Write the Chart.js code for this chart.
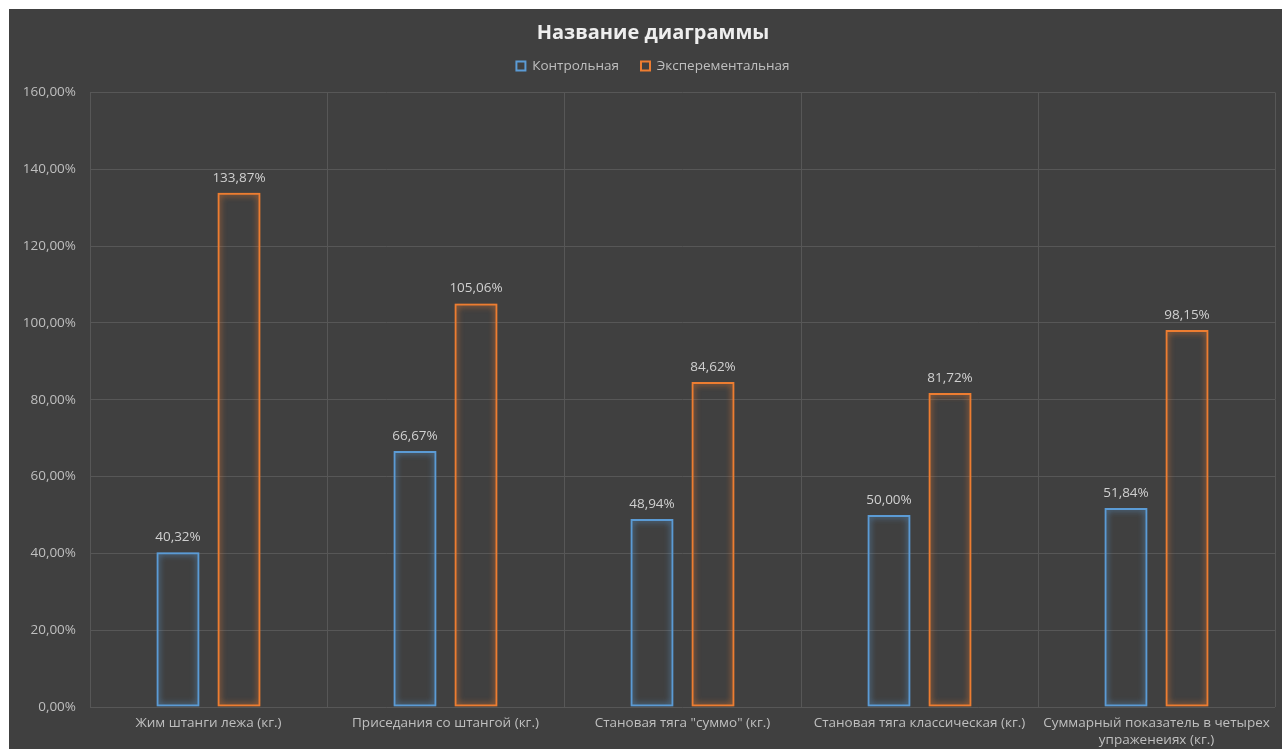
<!DOCTYPE html>
<html>
<head>
<meta charset="utf-8">
<script src="https://cdn.jsdelivr.net/npm/chart.js@4.4.0/dist/chart.umd.min.js"></script>
<style>
  html, body { margin: 0; padding: 0; background: #ffffff; overflow: hidden; }
  #wrap { position: absolute; left: 9px; top: 9px; width: 1273px; height: 740px; background: #404040; }
  canvas { display: block; }
</style>
</head>
<body>
<div id="wrap"><canvas id="c" width="1273" height="740"></canvas></div>
<script>
const categories = [
  "Жим штанги лежа (кг.)",
  "Приседания со штангой (кг.)",
  "Становая тяга \"суммо\" (кг.)",
  "Становая тяга классическая (кг.)",
  ["Суммарный показатель в четырех", "упраженеиях (кг.)"]
];
const seriesNames = ["Контрольная", "Эксперементальная"];
const controlValues = [40.32, 66.67, 48.94, 50.00, 51.84];
const experimentalValues = [133.87, 105.06, 84.62, 81.72, 98.15];
const yMax = 160;
const yStep = 20;
const chartTitle = "Название диаграммы";

const FONT = "'Open Sans', 'Noto Sans', sans-serif";
const TEXT = "#bfbfbf";
const LABEL = "#d0d0d0";
const BLUE = "#5b9bd5";
const ORANGE = "#ed7d31";
const GRID = "#575757";
const FS = 13.5;

function fmt(v) { return v.toFixed(2).replace('.', ',') + '%'; }

const glowPlugin = {
  id: 'glow',
  beforeDatasetDraw(chart, args) {
    const ctx = chart.ctx;
    ctx.save();
    const ds = chart.data.datasets[args.index];
    ctx.shadowColor = ds.borderColor;
    ctx.shadowBlur = 6;
  },
  afterDatasetDraw(chart) { chart.ctx.restore(); }
};

const labelPlugin = {
  id: 'valueLabels',
  afterDatasetsDraw(chart) {
    const ctx = chart.ctx;
    ctx.save();
    ctx.font = FS + "px " + FONT;
    ctx.fillStyle = LABEL;
    ctx.textAlign = 'center';
    ctx.textBaseline = 'middle';
    chart.data.datasets.forEach((ds, i) => {
      const meta = chart.getDatasetMeta(i);
      meta.data.forEach((bar, j) => {
        ctx.fillText(fmt(ds.data[j]), bar.x, bar.y - 15);
      });
    });
    ctx.restore();
  }
};

// shift the header block (title + legend) slightly right, as in the original
const headerShift = {
  id: 'headerShift',
  afterLayout(chart) {
    [chart.titleBlock, chart.legend].forEach(b => { if (b) { b.left += 22; } });
  }
};

new Chart(document.getElementById('c'), {
  type: 'bar',
  data: {
    labels: categories,
    datasets: [
      { label: seriesNames[0], data: controlValues, backgroundColor: 'rgba(0,0,0,0)', borderColor: BLUE, borderWidth: 2, borderSkipped: false },
      { label: seriesNames[1], data: experimentalValues, backgroundColor: 'rgba(0,0,0,0)', borderColor: ORANGE, borderWidth: 2, borderSkipped: false }
    ]
  },
  options: {
    responsive: false,
    animation: false,
    events: [],
    datasets: { bar: { categoryPercentage: 0.515, barPercentage: 0.705 } },
    layout: { padding: { left: 0, right: 7, top: 0, bottom: 0 } },
    plugins: {
      title: {
        display: true, text: chartTitle, color: '#eeeeee',
        font: { family: FONT, size: 20, weight: 'bold' },
        padding: { top: 12, bottom: -7.75 }
      },
      subtitle: {
        display: true, text: '', weight: 500,
        font: { family: FONT, size: 1 },
        padding: { top: 0, bottom: 8.5 }
      },
      legend: {
        display: true, position: 'top',
        labels: {
          color: TEXT, font: { family: FONT, size: FS },
          boxWidth: 9, boxHeight: 9, padding: 22
        }
      },
      tooltip: { enabled: false }
    },
    scales: {
      x: {
        grid: { color: GRID, drawTicks: false, offset: true },
        border: { display: false },
        ticks: { color: TEXT, font: { family: FONT, size: FS, lineHeight: 1.25 }, padding: 8, maxRotation: 0, autoSkip: false },
        afterFit(s) { s.height = 42; }
      },
      y: {
        min: 0, max: yMax,
        grid: { color: GRID, drawTicks: false },
        border: { display: false },
        ticks: { stepSize: yStep, color: TEXT, font: { family: FONT, size: FS }, padding: 14, callback: v => fmt(v) },
        afterFit(s) { s.width = 81; }
      }
    }
  },
  plugins: [glowPlugin, labelPlugin, headerShift]
});
</script>
</body>
</html>
